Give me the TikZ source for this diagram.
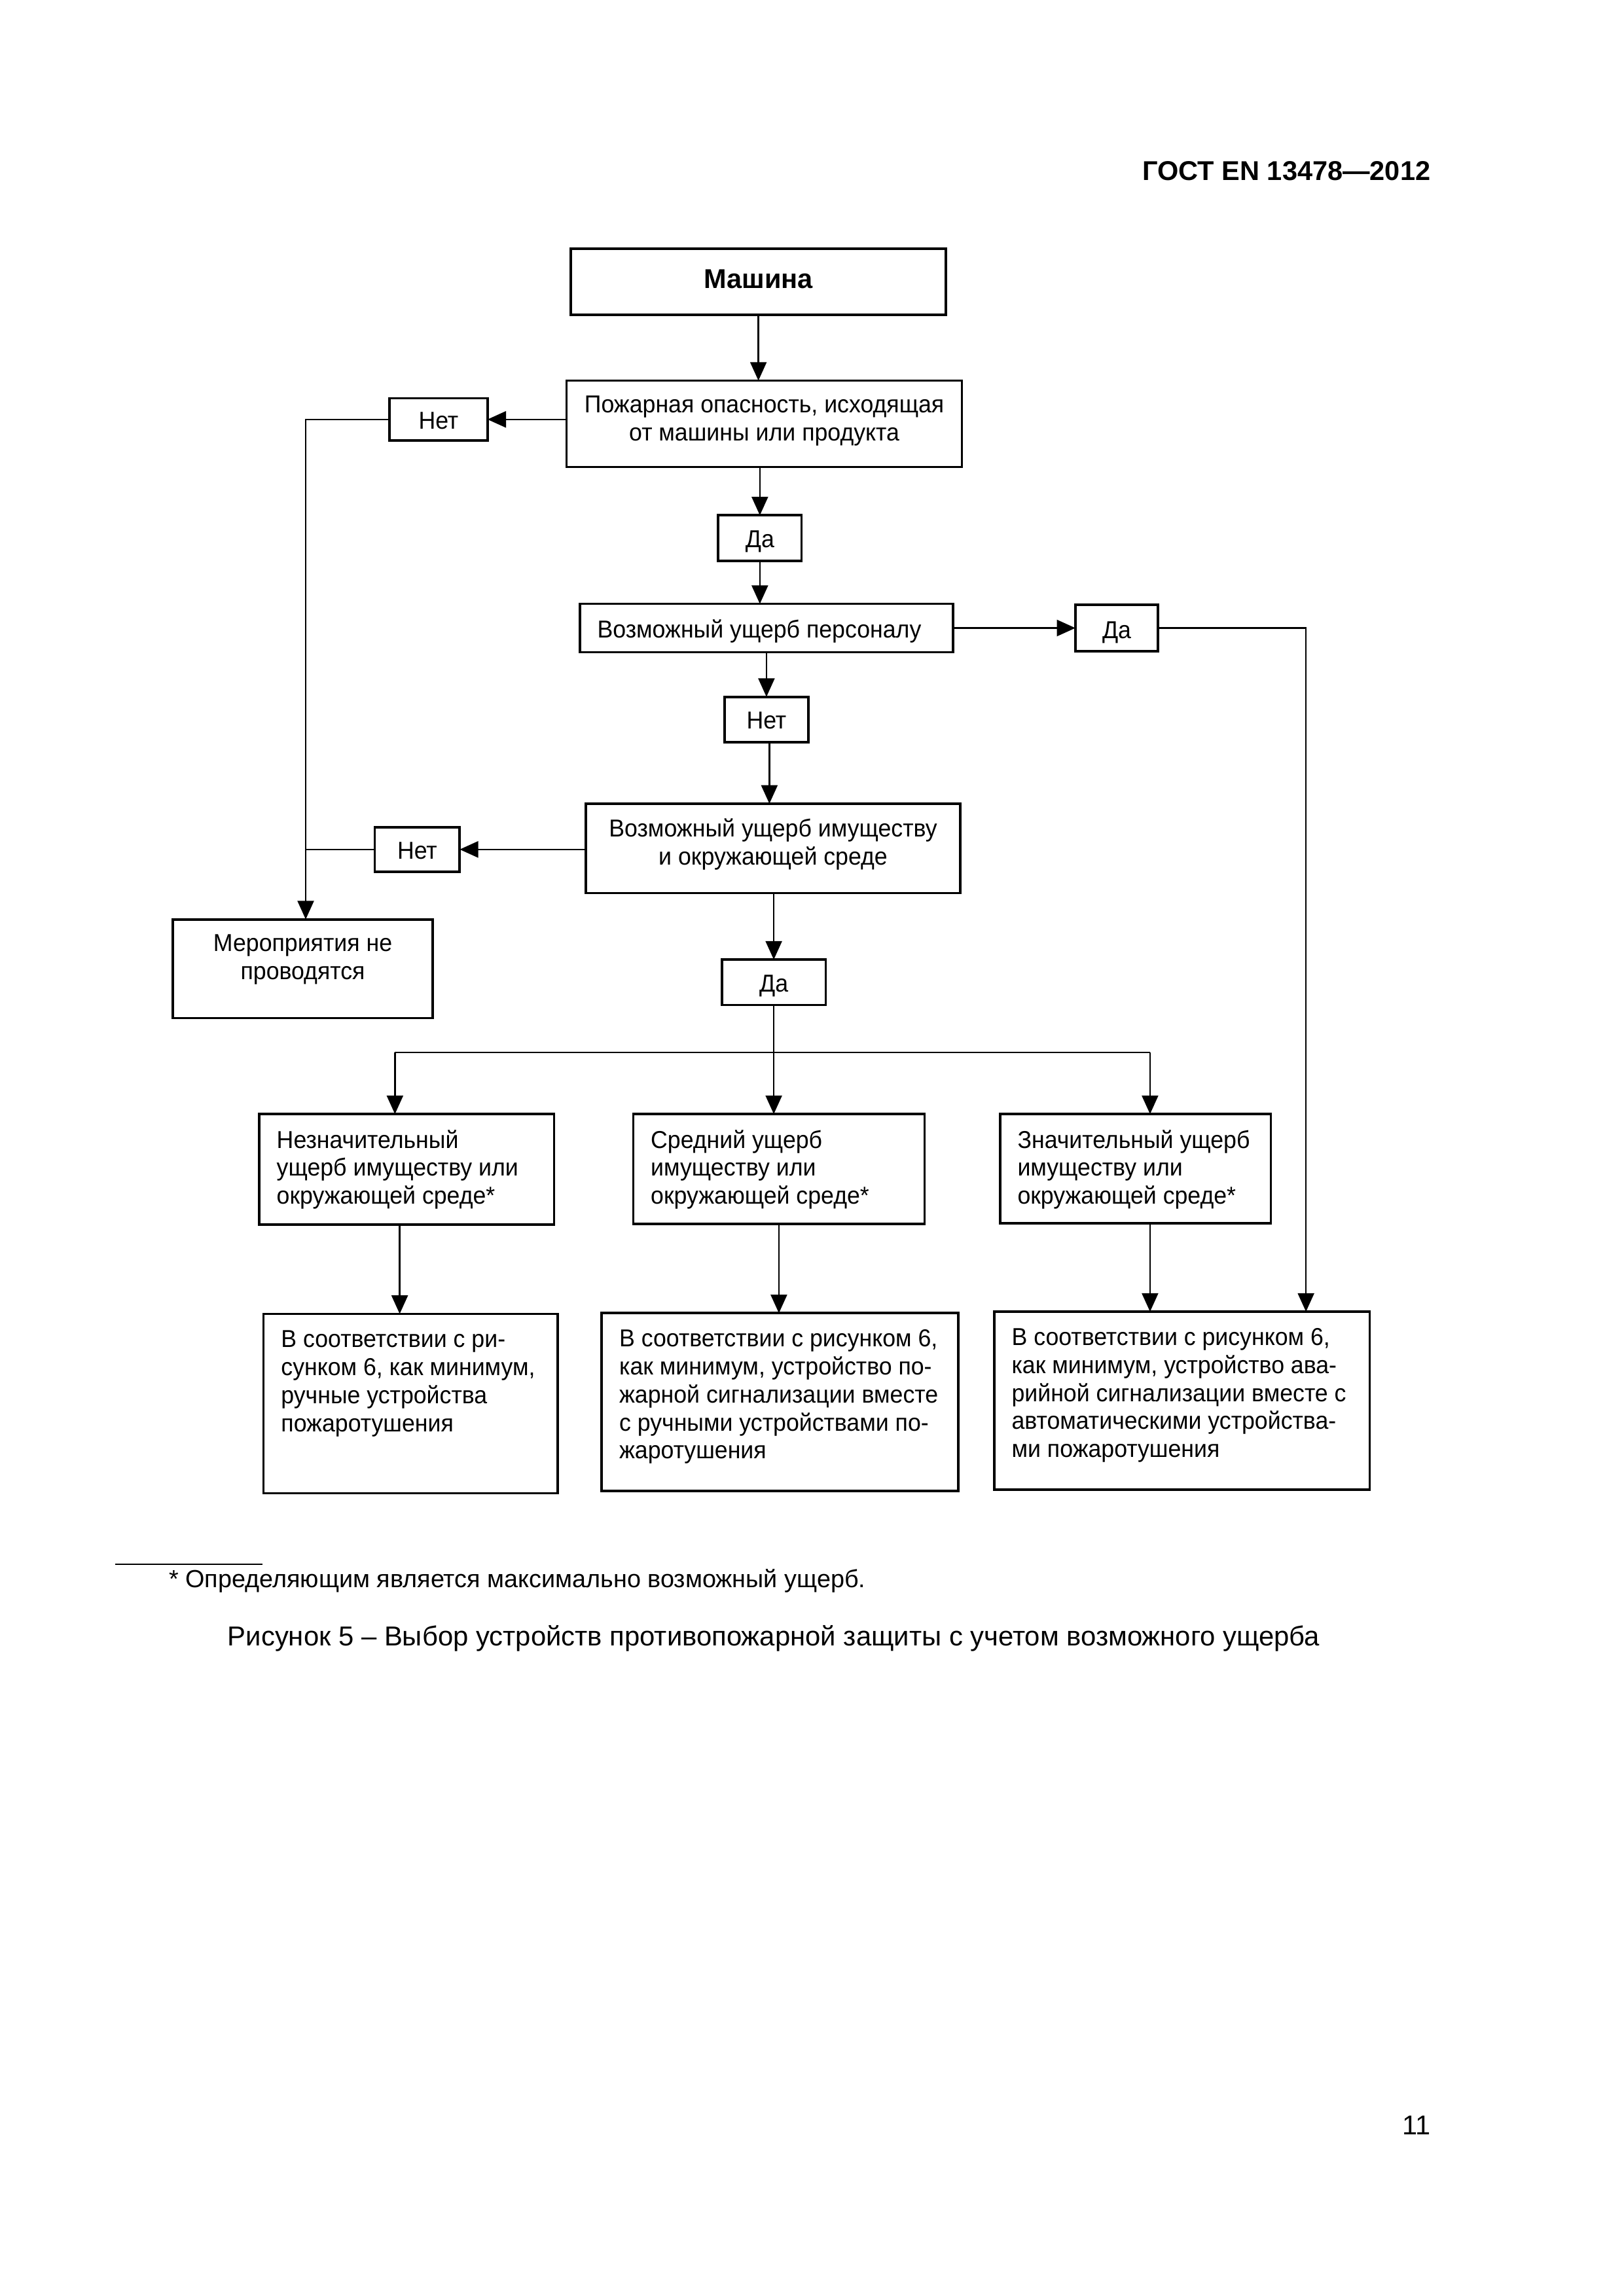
\documentclass[tikz,border=0pt]{standalone}
\usepackage{fontspec}
\setmainfont{Liberation Sans}
\newfontfamily\dfont[FakeStretch=0.955]{Liberation Sans}
\usetikzlibrary{arrows.meta,calc}
\newdimen\pxu \pxu=0.18936mm
\newcommand\bxc[4]{\parbox[t][#2\pxu][t]{#1\pxu}{\centering\leftskip=-40\pxu plus 1fil\rightskip=-40\pxu plus 1fil\rule{0pt}{#3\pxu}#4}}
\newcommand\bxl[4]{\parbox[t][#2\pxu][t]{#1\pxu}{\raggedright\leftskip=12\pxu\rightskip=-60\pxu plus 1fil\rule{0pt}{#3\pxu}#4}}
\hfuzz=\maxdimen \hbadness=10000 \vbadness=10000 \vfuzz=\maxdimen
\begin{document}
\begin{tikzpicture}[x=0.18936mm,y=-0.18936mm,
  boxb/.style={draw,line width=0.9pt,inner sep=0pt,outer sep=0pt,anchor=north west,font=\dfont\fontsize{9}{10.3}\selectfont},
  flowline/.style={draw,line width=0.6pt},
  flowarr/.style={draw,line width=0.6pt,-{Triangle[length=6.8pt,width=6pt]}},
  txt/.style={inner sep=0pt,outer sep=0pt}]
\path[fill=white] (0,0) rectangle (1109,1568.4);
\useasboundingbox (0,0) rectangle (1109,1568.4);

\node[txt,anchor=base east,font=\bfseries\fontsize{10}{12}\selectfont] (hdr) at (977,123) {ГОСТ EN 13478—2012};

\node[boxb] (mash) at (390,170) {\bxc{256}{45}{26.8}{\rmfamily\bfseries\fontsize{10}{12}\selectfont Машина}};
\node[boxb] (pozh) at (387,260) {\bxc{270}{59}{22}{Пожарная опасность, исходящая\\от машины или продукта}};
\node[boxb] (net1) at (266,272) {\bxc{67}{29}{21}{Нет}};
\node[boxb] (da1) at (490.5,352) {\bxc{57}{31}{22}{Да}};
\node[boxb] (pers) at (396,412.5) {\bxl{255}{33}{23}{Возможный ущерб персоналу}};
\node[boxb] (da2) at (734.5,413) {\bxc{56.5}{32}{23}{Да}};
\node[boxb] (net2) at (495,476) {\bxc{57}{31}{22}{Нет}};
\node[boxb] (imu) at (400,549) {\bxc{256}{61}{22.5}{Возможный ущерб имуществу\\и окружающей среде}};
\node[boxb] (net3) at (256,565) {\bxc{58}{30.5}{22}{Нет}};
\node[boxb] (mer) at (118,628) {\bxc{177.6}{67.5}{22}{Мероприятия не\\проводятся}};
\node[boxb] (da3) at (493,655.5) {\bxc{71}{31}{22}{Да}};
\node[boxb] (l1) at (177,761) {\bxl{201.5}{75.5}{23.3}{Незначительный\\ущерб имуществу или\\окружающей среде*}};
\node[boxb] (l2) at (432.5,761) {\bxl{199}{75}{23.3}{Средний ущерб\\имуществу или\\окружающей среде*}};
\node[boxb] (l3) at (683,761) {\bxl{185}{74.5}{23.3}{Значительный ущерб\\имуществу или\\окружающей среде*}};
\node[boxb] (r1) at (180,897.5) {\bxl{201}{122.5}{23}{В соответствии с ри-\\сунком 6, как минимум,\\ручные устройства\\пожаротушения}};
\node[boxb] (r2) at (411,897) {\bxl{243.5}{121.5}{23}{В соответствии с рисунком 6,\\как минимум, устройство по-\\жарной сигнализации вместе\\с ручными устройствами по-\\жаротушения}};
\node[boxb] (r3) at (679,896) {\bxl{256.5}{121.5}{23}{В соответствии с рисунком 6,\\как минимум, устройство ава-\\рийной сигнализации вместе с\\автоматическими устройства-\\ми пожаротушения}};

\coordinate (merin) at ($(mer.north)+(2,0)$);
\coordinate (r3in) at ($(r3.north east)+(-43.5,0)$);
\coordinate (l1in) at ($(l1.north)+(-8,0)$);
\coordinate (l3in) at ($(l3.north)+(10,0)$);
\coordinate (r1in) at ($(r1.north)+(-7.5,0)$);
\coordinate (bus) at (0,719);
\coordinate (n2out) at ($(net2.south)+(2,0)$);

\draw[flowarr] (mash.south) -- (mash.south |- pozh.north);
\draw[flowarr] (net1.east -| pozh.west) -- (net1.east);
\draw[flowarr] (net1.west) -| (merin);
\draw[flowline] (net3.west) -- (net3.west -| merin);
\draw[flowarr] (pozh.south -| da1.north) -- (da1.north);
\draw[flowarr] (da1.south) -- (da1.south |- pers.north);
\draw[flowarr] (pers.east) -- (pers.east -| da2.west);
\draw[flowarr] (da2.east) -| (r3in);
\draw[flowarr] (pers.south -| net2.north) -- (net2.north);
\draw[flowarr] (n2out) -- (n2out |- imu.north);
\draw[flowarr] (net3.east -| imu.west) -- (net3.east);
\draw[flowarr] (imu.south -| da3.north) -- (da3.north);
\draw[flowarr] (da3.south) -- (da3.south |- l2.north);
\draw[flowarr] (bus -| l1in) -- (l1in);
\draw[flowline] (bus -| l1in) -- (bus -| l3in);
\draw[flowarr] (bus -| l3in) -- (l3in);
\draw[flowarr] (r1in |- l1.south) -- (r1in);
\draw[flowarr] (l2.south) -- (l2.south |- r2.north);
\draw[flowarr] (l3in |- l3.south) -- (l3in |- r3.north);

\draw[line width=0.6pt] (78.5,1068.5) -- (179.5,1068.5);
\node[txt,anchor=base west,font=\fontsize{9.1}{11}\selectfont] (fn) at (115.5,1084.5) {* Определяющим является максимально возможный ущерб.};
\node[txt,anchor=base west,font=\fontsize{10.08}{12}\selectfont] (cap) at (155.5,1124) {Рисунок 5 – Выбор устройств противопожарной защиты с учетом возможного ущерба};
\node[txt,anchor=base east,font=\fontsize{10}{12}\selectfont] (pg) at (977,1458) {11};
\end{tikzpicture}
\end{document}
